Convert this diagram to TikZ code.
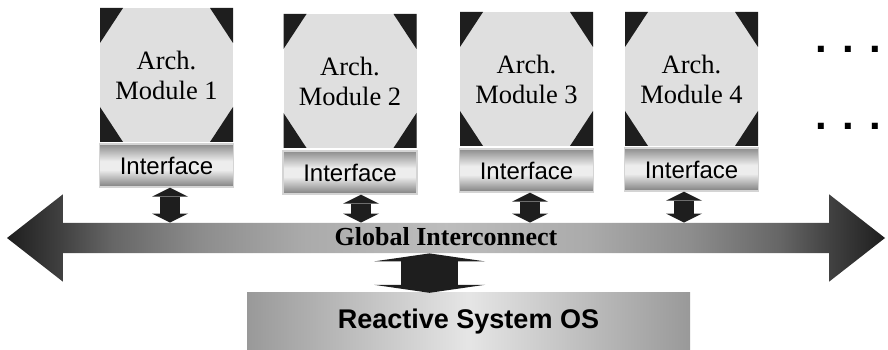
\documentclass[tikz,border=0pt]{standalone}
\usepackage{fontspec}
\setmainfont{Liberation Serif}
\setsansfont{Liberation Sans}
\usetikzlibrary{shapes.arrows,arrows.meta,positioning}

\definecolor{modgray}{HTML}{DFDFDF}
\definecolor{blk}{HTML}{1E1E1E}
\definecolor{ifborder}{HTML}{D4D4D4}

\pgfdeclarehorizontalshading{busshade}{100bp}{color(0bp)=(blk); color(25bp)=(blk);
  color(28bp)=(black!75); color(31bp)=(black!60); color(36bp)=(black!45);
  color(42bp)=(black!33); color(50bp)=(black!26);
  color(58bp)=(black!33); color(64bp)=(black!45); color(69bp)=(black!60);
  color(72bp)=(black!75); color(75bp)=(blk); color(100bp)=(blk)}
\pgfdeclareverticalshading{ifshade}{100bp}{color(0bp)=(black!50); color(25bp)=(black!50);
  color(45bp)=(black!7); color(55bp)=(black!7); color(75bp)=(black!45); color(100bp)=(black!45)}
\pgfdeclarehorizontalshading{osshade}{100bp}{color(0bp)=(black!40); color(25bp)=(black!40);
  color(50bp)=(black!10); color(75bp)=(black!40); color(100bp)=(black!40)}

\begin{document}
\begin{tikzpicture}[x=1pt, y=1pt,
    archmod/.style={fill=modgray, minimum width=133pt, minimum height=134pt, inner sep=0pt,
      align=center, font=\fontsize{26.5}{30}\selectfont,
      path picture={
        \fill[blk] (path picture bounding box.north west) -- ++(23pt,0pt) -- ++(-23pt,-35pt) -- cycle;
        \fill[blk] (path picture bounding box.north east) -- ++(-23pt,0pt) -- ++(23pt,-35pt) -- cycle;
        \fill[blk] (path picture bounding box.south west) -- ++(23pt,0pt) -- ++(-23pt,35pt) -- cycle;
        \fill[blk] (path picture bounding box.south east) -- ++(-23pt,0pt) -- ++(23pt,35pt) -- cycle;
      }},
    iface/.style={shading=ifshade, draw=ifborder, line width=1.5pt, minimum width=134pt,
      minimum height=43pt, inner sep=0pt, font=\sffamily\fontsize{24}{26}\selectfont},
    link/.style={draw=blk, line width=20pt,
      arrows={Triangle[length=9pt, width=36pt, line width=0pt]-Triangle[length=9pt, width=36pt, line width=0pt]}},
    biglink/.style={draw=blk, line width=57pt,
      arrows={Triangle[length=8pt, width=111pt, line width=0pt]-Triangle[length=8pt, width=111pt, line width=0pt]}},
    dots/.style={anchor=base west, inner sep=0pt, font=\sffamily\bfseries\fontsize{42}{44}\selectfont}
  ]
  \useasboundingbox (0, 0) rectangle (888, 350);

  \node[archmod] (m1) at (166.5, 275) {Arch.\\Module 1};
  \node[archmod] (m2) at (350, 269) {Arch.\\Module 2};
  \node[archmod] (m3) at (526.5, 271) {Arch.\\Module 3};
  \node[archmod] (m4) at (691.5, 271) {Arch.\\Module 4};

  \node[iface, below=1pt of m1] (i1) {Interface};
  \node[iface, below=2pt of m2] (i2) {Interface};
  \node[iface, below=2pt of m3] (i3) {Interface};
  \node[iface, below=1pt of m4] (i4) {Interface};

  \node[dots] (d1) at (815, 297) {. . .};
  \node[dots] (d2) at (815, 220) {. . .};

  \node[double arrow, double arrow head extend=28.5pt, double arrow tip angle=76,
    minimum height=878pt, inner xsep=0pt, inner ysep=2.5pt, text height=20pt, text depth=5pt,
    shading=busshade, font=\bfseries\fontsize{26}{28}\selectfont] (bus) at (446, 112) {Global Interconnect};

  \node[shading=osshade, minimum width=443pt, minimum height=57pt,
    font=\sffamily\bfseries\fontsize{27}{29}\selectfont] (os) at (468.5, 28.5) {Reactive System OS};

  \draw[link] ([xshift=3.5pt]i1.south) -- ([xshift=3.5pt]i1.south |- bus.north);
  \draw[link] ([xshift=11pt]i2.south) -- ([xshift=11pt]i2.south |- bus.north);
  \draw[link] ([xshift=3.5pt]i3.south) -- ([xshift=3.5pt]i3.south |- bus.north);
  \draw[link] ([xshift=-7.5pt]i4.south) -- ([xshift=-7.5pt]i4.south |- bus.north);
  \draw[biglink] ([xshift=-16.5pt]bus.south) -- ([xshift=-16.5pt]bus.south |- os.north);

\end{tikzpicture}
\end{document}
